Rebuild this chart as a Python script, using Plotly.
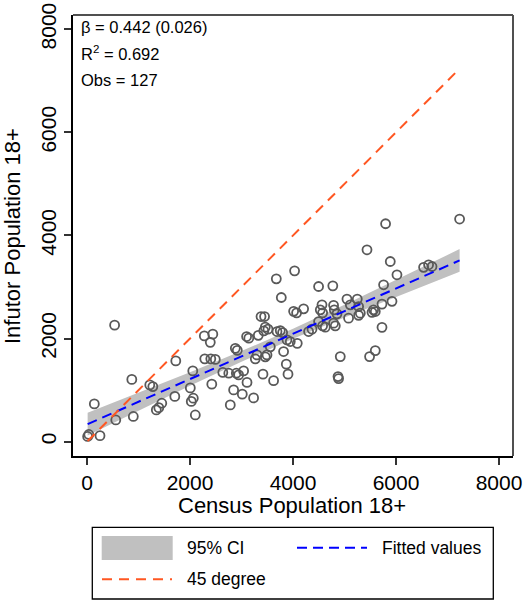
import plotly.graph_objects as go

# Streudiagramm: Census vs. Infutor
census = [536, 2278, 2443, 2394, 1724, 2287, 2404, 2491, 2637, 2753,
          870, 2054, 1219, 1278, 2423, 2006, 1705, 2064, 2025, 1452,
          1394, 1346, 142, 2103, 899, 559, 2782, 12, 35, 252,
          3041, 2944, 3107, 2847, 3015, 3235, 2880, 2918, 3099, 3142,
          3326, 3379, 3448, 3462, 3514, 3433, 3268, 3301, 3495, 3462,
          3559, 3417, 3623, 3870, 3903, 3817, 3689, 3753, 3798, 3883,
          3947, 4083, 3676, 3773, 4031, 4012, 4070, 4206, 4497, 4773,
          4563, 4530, 4575, 4788, 4802, 4854, 5048, 4497, 4575, 4627,
          4788, 4821, 4303, 4369, 4918, 4874, 4885, 5079, 5248, 5113,
          5274, 5307, 5274, 5565, 5598, 5534, 5728, 5922, 5728, 5598,
          5487, 5798, 7235, 5437, 5889, 6019, 6536, 6633, 6699, 5759,
          2899]
infutor = [2260, 2052, 2085, 1926, 1567, 1606, 1606, 1596, 1344, 1328,
           1208, 1373, 1101, 1068, 1115, 1043, 878, 843, 781, 746,
           660, 616, 732, 518, 489, 421, 713, 101, 140, 117,
           1373, 1295, 1149, 1004, 922, 849, 1810, 1771, 2039, 2008,
           2062, 2427, 2427, 2221, 2182, 2149, 1606, 1683, 1683, 1645,
           1839, 1309, 1184, 1503, 1309, 1748, 2136, 2155, 2116, 1975,
           1942, 1907, 3159, 2796, 3314, 2528, 2499, 2577, 3010, 3023,
           2654, 2557, 2499, 2645, 2557, 2480, 2765, 2330, 2247, 2221,
           2299, 2247, 2136, 2182, 1650, 1262, 1223, 2396, 2765, 2654,
           2621, 2493, 2450, 2557, 2524, 2509, 2668, 2722, 2217, 1767,
           1650, 4227, 4318, 3722, 3495, 3237, 3382, 3431, 3398, 3043,
           1328]

# Regressionsgerade mit 95%-Konfidenzband
fit_x = [12, 1000, 2000, 3000, 3620, 4000, 5000, 6000, 7235]
fit_y = [340, 774, 1214, 1654, 1926, 2093, 2533, 2972, 3515]
ci_lo = [120, 601, 1083, 1551, 1829, 1994, 2410, 2810, 3295]
ci_hi = [560, 947, 1345, 1757, 2023, 2192, 2656, 3134, 3735]

# 45-Grad-Linie
diag_x = [12, 7235]
diag_y = [12, 7235]

ticks = [0, 2000, 4000, 6000, 8000]
stats_text = ["β = 0.442 (0.026)", "R<sup>2</sup> = 0.692", "Obs = 127"]

FONT = "Liberation Sans"
GRAY_CI = "#c0c0c0"
BLUE = "#0000ff"
ORANGE = "#ff5722"

# Plotbereich in Pixeln (für Legende/Beschriftungen)
L, R, T, B = 73, 513, 15, 456


def px(x):
    return (x - L) / (R - L)


def py(y):
    return (B - y) / (B - T)


fig = go.Figure()

fig.add_trace(go.Scatter(x=fit_x, y=ci_lo, mode="lines", line=dict(width=0),
                         hoverinfo="skip", showlegend=False))
fig.add_trace(go.Scatter(x=fit_x, y=ci_hi, mode="lines", line=dict(width=0),
                         fill="tonexty", fillcolor=GRAY_CI, name="95% CI",
                         showlegend=False))
fig.add_trace(go.Scatter(x=census, y=infutor, mode="markers", showlegend=False,
                         marker=dict(symbol="circle-open", size=9, color="#595959",
                                     line=dict(width=1.8, color="#595959"))))
fig.add_trace(go.Scatter(x=fit_x, y=fit_y, mode="lines", name="Fitted values",
                         line=dict(color=BLUE, width=2, dash="10px,6px"),
                         showlegend=False))
fig.add_trace(go.Scatter(x=diag_x, y=diag_y, mode="lines", name="45 degree",
                         line=dict(color=ORANGE, width=2, dash="10px,7px"),
                         showlegend=False))

axis_common = dict(
    tickvals=ticks, ticks="outside", ticklen=7, tickwidth=1.5, tickcolor="#333333",
    showgrid=False, zeroline=False, showline=True, linecolor="black", linewidth=2,
    tickfont=dict(family=FONT, size=21, color="black"), automargin=False,
)

annotations = []
for i, txt in enumerate(stats_text):
    annotations.append(dict(text=txt, x=px(79), y=py([27, 53, 80][i]), xref="paper",
                            yref="paper", xanchor="left", yanchor="middle",
                            showarrow=False, font=dict(family=FONT, size=16.5, color="black")))

# Achsentitel
annotations.append(dict(text="Census Population 18+", x=px(292), y=py(505),
                        xref="paper", yref="paper", showarrow=False,
                        xanchor="center", yanchor="middle",
                        font=dict(family=FONT, size=22, color="black")))
annotations.append(dict(text="Infutor Population 18+", x=px(13), y=py(236),
                        xref="paper", yref="paper", showarrow=False, textangle=-90,
                        xanchor="center", yanchor="middle",
                        font=dict(family=FONT, size=22, color="black")))

# Legende von Hand (breites CI-Feld wie im Original)
leg_font = dict(family=FONT, size=17.5, color="black")
for txt, x, y in [("95% CI", 185, 548), ("Fitted values", 380, 548), ("45 degree", 185, 579)]:
    annotations.append(dict(text=txt, x=px(x), y=py(y), xref="paper", yref="paper",
                            xanchor="left", yanchor="middle", showarrow=False, font=leg_font))

shapes = [
    # Rahmen oben und rechts
    dict(type="line", xref="paper", yref="paper", x0=0, x1=1, y0=1, y1=1,
         line=dict(color="#505050", width=2)),
    dict(type="line", xref="paper", yref="paper", x0=1, x1=1, y0=0, y1=1,
         line=dict(color="#505050", width=2)),
    # Legendenkasten
    dict(type="rect", xref="paper", yref="paper", x0=px(92.3), x1=px(493.3),
         y0=py(599), y1=py(527.3), line=dict(color="black", width=1.3)),
    dict(type="rect", xref="paper", yref="paper", x0=px(101.7), x1=px(172.7),
         y0=py(560), y1=py(536), fillcolor=GRAY_CI, line=dict(width=0)),
    dict(type="line", xref="paper", yref="paper", x0=px(297), x1=px(367),
         y0=py(547.7), y1=py(547.7), line=dict(color=BLUE, width=2, dash="10px,6px")),
    dict(type="line", xref="paper", yref="paper", x0=px(102), x1=px(172),
         y0=py(579.3), y1=py(579.3), line=dict(color=ORANGE, width=2, dash="10px,7px")),
]

fig.update_layout(
    width=524, height=601,
    paper_bgcolor="white", plot_bgcolor="white",
    margin=dict(l=L, r=524 - R, t=T, b=601 - B, autoexpand=False),
    xaxis=dict(range=[-272, 8272], **axis_common),
    yaxis=dict(range=[-278, 8276], tickangle=-90, **axis_common),
    annotations=annotations,
    shapes=shapes,
    showlegend=False,
)

# Seitenrand entfernen, damit die Grafik genau ins Fenster passt
fig.write_html("out.html", config={"displayModeBar": False},
               post_script="document.body.style.margin='0';")
